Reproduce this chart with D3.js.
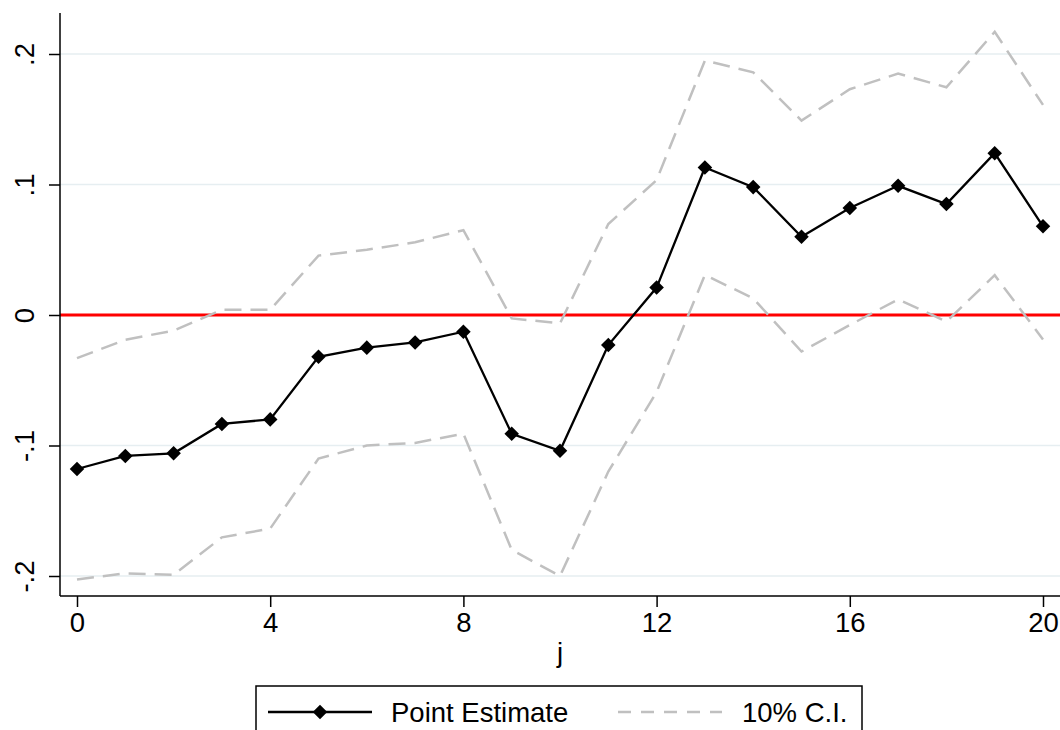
<!DOCTYPE html>
<html>
<head>
<meta charset="utf-8">
<script src="https://cdn.jsdelivr.net/npm/d3@7"></script>
<style>
  html, body { margin: 0; padding: 0; background: #fff; }
  svg { display: block; font-family: "Liberation Sans", Arial, sans-serif; }
</style>
</head>
<body>
<svg id="chart" width="1060" height="730"></svg>
<script>
// Event-study estimates by horizon j
const horizons = [0, 1, 2, 3, 4, 5, 6, 7, 8, 9, 10, 11, 12, 13, 14, 15, 16, 17, 18, 19, 20];
const pointEstimate = [-0.118, -0.108, -0.106, -0.0835, -0.080, -0.032, -0.025, -0.021, -0.0128, -0.091, -0.104,
                       -0.023, 0.021, 0.113, 0.098, 0.060, 0.082, 0.099, 0.085, 0.124, 0.068];
const ciUpper = [-0.033, -0.019, -0.012, 0.004, 0.004, 0.0455, 0.050, 0.0557, 0.065, -0.0026, -0.0064,
                 0.0697, 0.1034, 0.195, 0.186, 0.149, 0.173, 0.185, 0.1745, 0.217, 0.161];
const ciLower = [-0.2026, -0.198, -0.199, -0.1704, -0.1637, -0.110, -0.100, -0.098, -0.091, -0.180, -0.200,
                 -0.120, -0.059, 0.0307, 0.0128, -0.028, -0.0077, 0.012, -0.005, 0.0305, -0.0187];
const xTicks = [0, 4, 8, 12, 16, 20];
const yTicks = [-0.2, -0.1, 0, 0.1, 0.2];
const yTickLabels = ["-.2", "-.1", "0", ".1", ".2"];
const legendLabels = ["Point Estimate", "10% C.I."];

const svg = d3.select("#chart");
const FONT = 27.5;

// Plot region edges
const plot = { left: 60, right: 1060, top: 13, bottom: 596 };

const x = d3.scaleLinear().domain([0, 20]).range([77, 1043]);
const y = d3.scaleLinear().domain([-0.2, 0.2]).range([576, 54]);

// Horizontal grid lines
svg.append("g").selectAll("line")
  .data(yTicks.filter(v => v !== 0))
  .join("line")
  .attr("x1", plot.left).attr("x2", plot.right)
  .attr("y1", d => y(d)).attr("y2", d => y(d))
  .attr("stroke", "#e6eef1").attr("stroke-width", 1.6);

// Reference line at zero
svg.append("line")
  .attr("x1", plot.left).attr("x2", plot.right)
  .attr("y1", y(0)).attr("y2", y(0))
  .attr("stroke", "#ff0000").attr("stroke-width", 3);

const rows = horizons.map((j, i) => ({ j, est: pointEstimate[i], lo: ciLower[i], hi: ciUpper[i] }));

const ciStyle = g => g.attr("fill", "none").attr("stroke", "#c0c0c0")
  .attr("stroke-width", 2.5).attr("stroke-dasharray", "17,9");

// Confidence bounds
svg.append("path").datum(rows)
  .attr("d", d3.line().x(d => x(d.j)).y(d => y(d.hi)))
  .call(ciStyle);
svg.append("path").datum(rows)
  .attr("d", d3.line().x(d => x(d.j)).y(d => y(d.lo)))
  .call(ciStyle);

// Point estimate line and diamond markers
svg.append("path").datum(rows)
  .attr("d", d3.line().x(d => x(d.j)).y(d => y(d.est)))
  .attr("fill", "none").attr("stroke", "#000").attr("stroke-width", 2.3);

const diamond = d3.symbol().type(d3.symbolDiamond2).size(135);
svg.append("g").selectAll("path")
  .data(rows)
  .join("path")
  .attr("d", diamond)
  .attr("transform", d => `translate(${x(d.j)},${y(d.est)})`)
  .attr("fill", "#000");

// Y axis
const yAxis = svg.append("g")
  .attr("transform", `translate(${plot.left},0)`)
  .call(d3.axisLeft(y).tickValues(yTicks).tickSize(11).tickSizeOuter(0)
    .tickFormat((d, i) => yTickLabels[i]));
yAxis.select(".domain").remove();
yAxis.selectAll(".tick line").attr("stroke", "#000").attr("stroke-width", 1.5);
yAxis.selectAll(".tick text")
  .attr("x", null).attr("dy", null)
  .attr("transform", "translate(-26,0) rotate(-90)")
  .attr("text-anchor", "middle")
  .attr("font-size", FONT).attr("font-family", "Liberation Sans, Arial, sans-serif")
  .attr("fill", "#000");
svg.append("line")
  .attr("x1", plot.left).attr("x2", plot.left)
  .attr("y1", plot.top).attr("y2", plot.bottom)
  .attr("stroke", "#000").attr("stroke-width", 1.5);

// X axis
const xAxis = svg.append("g")
  .attr("transform", `translate(0,${plot.bottom})`)
  .call(d3.axisBottom(x).tickValues(xTicks).tickSize(11).tickSizeOuter(0).tickFormat(d3.format("d")));
xAxis.select(".domain").remove();
xAxis.selectAll(".tick line").attr("stroke", "#000").attr("stroke-width", 1.5);
xAxis.selectAll(".tick text")
  .attr("y", 36).attr("dy", null)
  .attr("font-size", FONT).attr("font-family", "Liberation Sans, Arial, sans-serif")
  .attr("fill", "#000");
svg.append("line")
  .attr("x1", plot.left).attr("x2", plot.right)
  .attr("y1", plot.bottom).attr("y2", plot.bottom)
  .attr("stroke", "#000").attr("stroke-width", 1.5);

// Axis title
svg.append("text")
  .attr("x", (x(0) + x(20)) / 2).attr("y", 662)
  .attr("text-anchor", "middle").attr("font-size", FONT)
  .text("j");

// Legend
const legend = svg.append("g");
legend.append("rect")
  .attr("x", 256).attr("y", 686).attr("width", 606).attr("height", 60)
  .attr("fill", "#fff").attr("stroke", "#000").attr("stroke-width", 1.5);
legend.append("line")
  .attr("x1", 268).attr("x2", 372).attr("y1", 712).attr("y2", 712)
  .attr("stroke", "#000").attr("stroke-width", 2.3);
legend.append("path").attr("d", diamond).attr("transform", "translate(320,712)").attr("fill", "#000");
legend.append("text").attr("x", 391).attr("y", 721.5).attr("font-size", FONT).text(legendLabels[0]);
legend.append("line")
  .attr("x1", 618).attr("x2", 722).attr("y1", 712).attr("y2", 712)
  .attr("stroke", "#c0c0c0").attr("stroke-width", 2.5).attr("stroke-dasharray", "13,10");
legend.append("text").attr("x", 742).attr("y", 721.5).attr("font-size", FONT).text(legendLabels[1]);
</script>
</body>
</html>
